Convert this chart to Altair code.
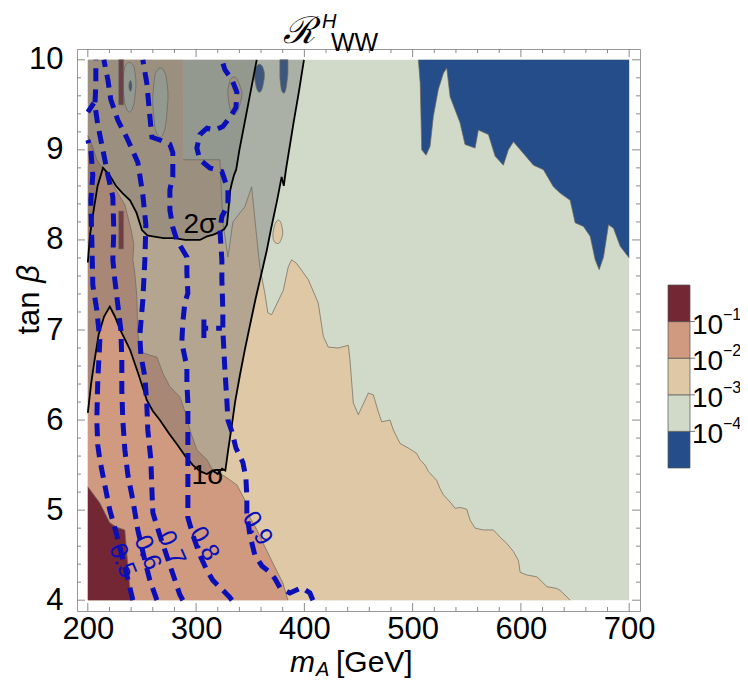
import altair as alt
import pandas as pd

# ---------------- axes / frame ----------------
X0, X1 = 190, 710
Y0, Y1 = 3.88, 10.12
W, H = 563, 562

C_BLUE = "#244d89"
C_GREEN = "#d1d9c9"
C_TAN = "#dfc8a6"
C_PINK = "#cf9a7f"
C_RED = "#732634"
C_DASH = "#0b0fb8"
FONT = "Liberation Sans"

x_major = [200, 300, 400, 500, 600, 700]
x_minor = [v for v in range(220, 700, 20) if v % 100 != 0]
y_major = [4, 5, 6, 7, 8, 9, 10]
y_minor = [round(4 + 0.2 * k, 1) for k in range(31) if k % 5 != 0]

# ---------------- colour regions ----------------
# tan region (1e-3 .. 1e-2): from tanb = 4 up to tan_top
tan_x = [200, 287.8, 288, 322, 324.7, 329.4, 334, 340.5, 345.1, 351.3, 355.9, 358.9, 363.6,
         366.3, 369.8, 380.5, 385.1, 388.2, 392.8, 403.6, 412.8, 417.5, 422.1, 431.3, 440.6,
         442.1, 445.2, 449.8, 459.1, 463.7, 468.3, 471.4, 479.1, 482.2, 488.4, 496.0, 503.7,
         506.8, 511.5, 514.5, 522.2, 525.3, 528.4, 534.6, 539.2, 543.8, 550.0, 553.0, 557.7,
         565.4, 574.6, 580.8, 587.0, 593.1, 597.7, 599.3, 605.4, 614.6, 620.8, 623.9, 633.2,
         636.2, 645.5]
tan_top = [10, 10, 8.89, 8.89, 8.2, 7.81, 8.2, 8.3, 8.37, 8.59, 8.04, 7.7, 7.4,
           7.19, 7.17, 7.44, 7.70, 7.78, 7.74, 7.56, 7.30, 6.93, 6.81, 6.80, 6.83,
           6.67, 6.19, 6.06, 6.30, 6.28, 6.09, 5.98, 6.0, 5.89, 5.74, 5.69, 5.63,
           5.56, 5.50, 5.43, 5.33, 5.24, 5.17, 5.09, 5.02, 5.03, 5.01, 4.89, 4.80,
           4.78, 4.78, 4.70, 4.63, 4.54, 4.44, 4.31, 4.28, 4.26, 4.19, 4.15, 4.13,
           4.11, 4.0]

# tan islands: right of the 1 sigma line, and inside the 2 sigma region
tisl_x = [371, 373, 376, 378, 380]
tisl_lo = [8.02, 7.97, 7.96, 7.99, 8.06]
tisl_hi = [8.08, 8.18, 8.22, 8.2, 8.1]
tisl2_x = [329.4, 331.5, 335, 339, 342.3]
tisl2_lo = [9.6, 9.45, 9.39, 9.45, 9.6]
tisl2_hi = [9.66, 9.78, 9.81, 9.76, 9.64]

# green islands inside the brown upper-left area
gisl1_x = [232.3, 234.5, 238.4, 242.3, 244.4]
gisl1_lo = [9.7, 9.5, 9.42, 9.5, 9.7]
gisl1_hi = [9.78, 9.93, 9.97, 9.93, 9.78]
gisl2_x = [260, 262.5, 267, 271.5, 274]
gisl2_lo = [9.5, 9.22, 9.14, 9.25, 9.55]
gisl2_hi = [9.6, 9.85, 9.91, 9.85, 9.65]

# pink region (1e-2 .. 1e-1): for each tanb, from mA = 200 to pink_right
pink_y = [4.0, 4.19, 4.41, 4.59, 4.78, 4.92, 5.11, 5.28, 5.38, 5.44, 5.56, 5.67, 5.89, 6.03,
          6.26, 6.37, 6.52, 6.70, 6.72, 6.76, 7.0, 7.37, 7.63, 7.78, 7.95, 8.11, 8.39, 8.67,
          8.89, 9.06, 9.16]
pink_right = [384.8, 380.2, 371.0, 363.6, 356.2, 349.7, 345.1, 337.7, 326, 315.5, 310, 300.7,
              294.2, 291.5, 285, 275.8, 269.3, 263.8, 257.3, 248, 246, 245.3, 243.4, 241.6,
              242.5, 240, 234.2, 220.3, 208.3, 203.7, 200]

# dark red region (> 1e-1)
red_y = [4.0, 4.14, 4.52, 4.78, 4.81, 4.86, 5.08, 5.26]
red_right = [241.6, 238.8, 236.0, 234.2, 226.8, 220.3, 211.1, 200]
bar_x1 = [228.6, 228.6]
bar_x2 = [233.0, 233.0]
bar_y1 = [7.9, 9.5]
bar_y2 = [8.32, 10.0]

# blue region (< 1e-4): from blue_low up to tanb = 10
blue_x = [505.3, 507.0, 507.8, 508.4, 512.4, 516.1, 519.1, 523.7, 528.4, 531.5, 534.6, 543.8,
          548.4, 557.7, 560.7, 570.0, 576.2, 583.8, 588.4, 593.1, 611.6, 620.8, 630.0, 636.2,
          645.5, 650.1, 657.8, 664.0, 668.6, 672.3, 676.3, 680.9, 685.5, 691.7, 700]
blue_low = [10, 9.74, 9.33, 9.0, 8.94, 9.04, 9.37, 9.67, 9.85, 9.91, 9.59, 9.30,
            9.06, 9.02, 9.22, 9.17, 8.93, 8.83, 9.0, 9.09, 8.83, 8.78, 8.59, 8.52,
            8.44, 8.19, 8.15, 8.04, 7.78, 7.67, 7.81, 8.17, 8.13, 7.93, 7.80]
# small blue blobs in the upper left
bb1_x = [354, 356, 358.5, 361, 363]
bb1_lo = [9.8, 9.68, 9.64, 9.68, 9.8]
bb1_hi = [9.86, 9.93, 9.95, 9.93, 9.86]
bb2_x = [377.4, 379, 381, 383, 384.8]
bb2_lo = [9.8, 9.66, 9.63, 9.68, 9.85]
bb2_hi = [10, 10, 10, 10, 10]
bb3_x = [238.0, 239.3, 240.6]
bb3_lo = [9.69, 9.65, 9.69]
bb3_hi = [9.73, 9.77, 9.73]

# ---------------- 1 sigma / 2 sigma ----------------
s1_x = [200, 203, 206, 210, 215, 220.3, 225, 230, 239, 247, 254.5, 260, 266.5, 275, 283, 290,
        297, 304, 310, 315, 320, 324, 327, 330, 333, 336, 340.5, 345, 349.7, 355, 360.8, 365.4,
        369, 375, 379, 381, 383, 390, 395, 399.6]
s1_y = [6.08, 6.4, 6.65, 6.95, 7.15, 7.26, 7.15, 7.0, 6.78, 6.5, 6.22, 6.1, 6.0, 5.85, 5.72,
        5.6, 5.5, 5.43, 5.40, 5.44, 5.40, 5.46, 5.44, 5.7, 5.94, 6.2, 6.5, 6.78, 7.05, 7.35,
        7.65, 7.89, 8.11, 8.45, 8.7, 8.6, 8.78, 9.3, 9.65, 10]
s2_x = [200, 202, 205, 209, 214, 220, 226, 232, 239, 245, 250, 255, 260, 270, 280, 290, 297,
        303.5, 310, 316, 322, 326, 328.5, 330, 331.5, 333, 335, 337, 340, 344, 348, 352, 356]
s2_y = [7.75, 8.05, 8.3, 8.6, 8.8, 8.72, 8.6, 8.52, 8.44, 8.3, 8.11, 8.05, 8.04, 8.02, 8.02,
        8.0, 8.0, 8.0, 8.04, 8.06, 8.09, 8.12, 8.17, 8.35, 8.55, 8.63, 8.72, 8.78, 9.0, 9.25,
        9.5, 9.75, 10]

# ---------------- dashed contours ----------------
c05_x = [241.6, 236.0, 226.8, 220.3, 214.8, 211.1, 209.2, 208.3, 209.2, 211.1, 208.3, 204.6,
         203.7, 202.8, 204.6, 202.8, 200]
c05_y = [4.0, 4.28, 4.72, 5.0, 5.33, 5.56, 5.72, 6.0, 6.44, 6.89, 7.22, 7.5, 8.0, 8.44, 8.72,
         9.0, 9.11]
c05b_x = [205.5, 200]
c05b_y = [9.52, 9.42]
c06_x = [263.8, 257.3, 252.7, 246.2, 241.6, 237.0, 234.2, 232.3, 231.4, 231.4, 230.5, 227.7,
         224.9, 223.1, 224.0, 223.1, 218.5, 213.9, 209.2, 206.5, 207.4, 207.4]
c06_y = [4.0, 4.22, 4.44, 4.78, 5.11, 5.39, 5.67, 6.0, 6.33, 6.67, 7.0, 7.28, 7.56, 7.78, 8.11,
         8.48, 8.72, 9.0, 9.28, 9.5, 9.72, 10]
c07_x = [287.8, 285.0, 275.8, 266.5, 260.1, 259.2, 258.2, 255.4, 254.5, 252.7, 249.0, 248.0,
         250.8, 252.7, 253.6, 250.8, 246.2, 237.0, 227.7, 221.2, 218.5, 214.8]
c07_y = [4.0, 4.06, 4.39, 4.72, 4.97, 5.22, 5.56, 5.89, 6.17, 6.48, 6.72, 6.94, 7.33, 7.78,
         8.17, 8.5, 8.86, 9.11, 9.33, 9.56, 9.78, 10]
c08_x = [333.1, 331.2, 324.7, 315.5, 310.0, 303.5, 297.1, 292.4, 292.4, 292.4, 292.4, 292.4,
         292.4, 292.4, 291.5, 291.5, 286.8, 287.7, 289.6, 292.4, 291.5, 291.5, 282.2, 278.5,
         275.8, 275.8, 278.5, 278.5, 275.8, 266.5, 259.2, 257.3, 254.5, 250.8]
c08_y = [4.0, 4.03, 4.11, 4.22, 4.33, 4.5, 4.72, 4.92, 5.14, 5.37, 5.56, 5.78, 6.0, 6.19, 6.41,
         6.59, 6.86, 7.08, 7.30, 7.41, 7.63, 7.81, 8.0, 8.14, 8.33, 8.56, 8.7, 8.97, 9.06, 9.11,
         9.14, 9.37, 9.74, 10]
c09_x = [407.9, 405.1, 397.7, 386.6, 377.4, 372.8, 368.2, 360.8, 354.3, 349.7, 346.9, 346.9,
         346.0, 343.2, 336.8, 333.1, 329.4, 328.4, 326.6, 324.7, 324.7, 323.8, 323.8, 322.0,
         323.8, 329.4, 329.4, 323.8, 312.7, 303.5, 300.7, 303.5, 310.0, 317.3, 324.7, 331.2,
         336.8, 337.7, 333.1, 326.6, 323.8]
c09_y = [4.0, 4.08, 4.14, 4.08, 4.14, 4.24, 4.31, 4.38, 4.5, 4.72, 4.97, 5.14, 5.36, 5.53,
         5.69, 5.87, 6.0, 6.22, 6.56, 7.0, 7.22, 7.56, 7.78, 8.11, 8.26, 8.39, 8.56, 8.76, 8.8,
         8.89, 9.02, 9.17, 9.24, 9.22, 9.26, 9.36, 9.47, 9.64, 9.78, 9.89, 10]
c09b_x = [307.2, 307.2, 307.2, 309.0, 323.8]
c09b_y = [6.91, 7.13, 7.02, 7.02, 7.02]

lab_text = ["0.5", "0.6", "0.7", "0.8", "0.9"]
lab_x = [232.3, 255.4, 277.6, 308.0, 357.0]
lab_y = [4.44, 4.53, 4.58, 4.63, 4.80]
lab_angle = [68, 68, 66, 60, 58]

sig_text = ["1σ", "2σ"]
sig_x = [311.0, 303.5]
sig_y = [5.38, 8.17]

cb_lo = [0, 1, 2, 3, 4]
cb_hi = [1, 2, 3, 4, 5]
cb_col = [C_BLUE, C_GREEN, C_TAN, C_PINK, C_RED]
cb_tick = [1, 2, 3, 4]
cb_base = ["10", "10", "10", "10"]
cb_exp = ["−4", "−3", "−2", "−1"]

# ---------------- build ----------------
xs = alt.Scale(domain=[X0, X1], nice=False, zero=False)
ys = alt.Scale(domain=[Y0, Y1], nice=False, zero=False)
AXX = alt.Axis(values=x_major, grid=False, ticks=False, domain=False, labelFontSize=31,
               labelFont=FONT, labelColor="black", labelPadding=3, title=None,
               labelFlush=False)
AXY = alt.Axis(values=y_major, grid=False, ticks=False, domain=False, labelFontSize=31,
               labelFont=FONT, labelColor="black", labelPadding=14, title=None,
               labelFlush=False)


def X(f):
    return alt.X(f, scale=xs, axis=AXX)


def Y(f):
    return alt.Y(f, scale=ys, axis=AXY)


LINE_C = "#6e6a5c"


def vband(xv, lo, hi, color, opacity=1.0):
    df = pd.DataFrame({"x": xv, "lo": lo, "hi": hi})
    return alt.Chart(df).mark_area(color=color, opacity=opacity, orient="vertical").encode(
        x=X("x:Q"), y=Y("lo:Q"), y2="hi:Q")


def island(xv, lo, hi, color):
    df = pd.DataFrame({"x": xv, "lo": lo, "hi": hi})
    return alt.Chart(df).mark_area(color=color, orient="vertical", interpolate="monotone",
                                   stroke=LINE_C, strokeWidth=0.7).encode(
        x=X("x:Q"), y=Y("lo:Q"), y2="hi:Q")


def hband(yv, right, color):
    df = pd.DataFrame({"y": yv, "l": [200] * len(yv), "r": right})
    return alt.Chart(df).mark_area(color=color, orient="horizontal").encode(
        y=Y("y:Q"), x=X("l:Q"), x2="r:Q")


def path(xv, yv, color, width, dash=None, opacity=1.0):
    df = pd.DataFrame({"x": xv, "y": yv, "i": list(range(len(xv)))})
    kw = dict(color=color, strokeWidth=width, opacity=opacity)
    if dash:
        kw["strokeDash"] = dash
    return alt.Chart(df).mark_line(**kw).encode(x=X("x:Q"), y=Y("y:Q"), order="i:Q")


layers = [
    vband([200, 700], [4, 4], [10, 10], C_GREEN),
    vband(tan_x, [4] * len(tan_x), tan_top, C_TAN),
    island(tisl_x, tisl_lo, tisl_hi, C_TAN),
    island(tisl2_x, tisl2_lo, tisl2_hi, C_TAN),
    island(gisl1_x, gisl1_lo, gisl1_hi, C_GREEN),
    island(gisl2_x, gisl2_lo, gisl2_hi, C_GREEN),
    hband(pink_y, pink_right, C_PINK),
    hband(red_y, red_right, C_RED),
    vband(blue_x, blue_low, [10] * len(blue_x), C_BLUE),
    island(bb1_x, bb1_lo, bb1_hi, C_BLUE),
    island(bb2_x, bb2_lo, bb2_hi, C_BLUE),
    island(bb3_x, bb3_lo, bb3_hi, C_BLUE),
]
bars = pd.DataFrame({"x1": bar_x1, "x2": bar_x2, "y1": bar_y1, "y2": bar_y2})
layers.append(alt.Chart(bars).mark_rect(color=C_RED, stroke=LINE_C, strokeWidth=0.6).encode(
    x=X("x1:Q"), x2="x2:Q", y=Y("y1:Q"), y2="y2:Q"))
# thin region boundaries
layers += [
    path(tan_x[2:], tan_top[2:], LINE_C, 0.9, opacity=0.8),
    path(pink_right, pink_y, LINE_C, 0.9, opacity=0.8),
    path(red_right, red_y, LINE_C, 0.9, opacity=0.8),
    path(blue_x, blue_low, LINE_C, 0.9, opacity=0.8),
]
# sigma shading
layers += [
    vband(s1_x, s1_y, [10] * len(s1_x), "#666666", 0.36),
    vband(s2_x, s2_y, [10] * len(s2_x), "#555555", 0.25),
    path(s1_x, s1_y, "black", 1.8),
    path(s2_x, s2_y, "black", 1.8),
]
# dashed contours
for cx, cy in [(c05_x, c05_y), (c05b_x, c05b_y), (c06_x, c06_y), (c07_x, c07_y),
               (c08_x, c08_y), (c09_x, c09_y), (c09b_x, c09b_y)]:
    layers.append(path(cx, cy, C_DASH, 5, dash=[13, 8]))

labs = pd.DataFrame({"t": lab_text, "x": lab_x, "y": lab_y, "a": lab_angle})
layers.append(alt.Chart(labs).mark_text(font=FONT, fontSize=25, color=C_DASH).encode(
    x=X("x:Q"), y=Y("y:Q"), text="t:N", angle=alt.Angle("a:Q", scale=None)))
sig = pd.DataFrame({"t": sig_text, "x": sig_x, "y": sig_y})
layers.append(alt.Chart(sig).mark_text(font=FONT, fontSize=28, color="black").encode(
    x=X("x:Q"), y=Y("y:Q"), text="t:N"))

# inward frame ticks
TICK_C = "#8a8a8a"


def xticks(vals, length, top):
    df = pd.DataFrame({"v": vals})
    y1, y2 = (0, length) if top else (H, H - length)
    return alt.Chart(df).mark_rule(color=TICK_C, strokeWidth=1).encode(
        x=X("v:Q"), y=alt.value(y1), y2=alt.value(y2))


def yticks(vals, length, right):
    df = pd.DataFrame({"v": vals})
    x1, x2 = (W, W - length) if right else (0, length)
    return alt.Chart(df).mark_rule(color=TICK_C, strokeWidth=1).encode(
        y=Y("v:Q"), x=alt.value(x1), x2=alt.value(x2))


for top in (False, True):
    layers += [xticks(x_major, 8, top), xticks(x_minor, 4, top)]
for right in (False, True):
    layers += [yticks(y_major, 8, right), yticks(y_minor, 4, right)]

# titles as text
title_parts = pd.DataFrame({
    "t": ["ℛ", "H", "WW", "m", "A", "[GeV]"],
    "px": [206, 245, 254, 213, 239, 259],
    "py": [-17, -27, -6, 614, 621, 614],
    "s": [37, 20, 25, 30, 20, 30],
    "st": ["italic", "italic", "normal", "italic", "italic", "normal"],
})
for _, r in title_parts.iterrows():
    layers.append(alt.Chart(pd.DataFrame({"t": [r.t]})).mark_text(
        font=FONT, fontSize=int(r.s), fontStyle=r.st, color="black", align="left",
        baseline="middle").encode(x=alt.value(int(r.px)), y=alt.value(int(r.py)), text="t:N"))
for t, py, st in [("tan", 264, "normal"), ("β", 225, "italic")]:
    layers.append(alt.Chart(pd.DataFrame({"t": [t]})).mark_text(
        font=FONT, fontSize=31, fontStyle=st, color="black",
        align="center", baseline="middle").encode(
        x=alt.value(-47), y=alt.value(py), text="t:N", angle=alt.value(270)))

main = alt.layer(*layers)

cb_df = pd.DataFrame({"lo": cb_lo, "hi": cb_hi, "c": cb_col})
cb_scale = alt.Scale(domain=[0, 5], range=[419, 236], nice=False, zero=False)
cb_rect = alt.Chart(cb_df).mark_rect(stroke="#555555", strokeWidth=0.7).encode(
    y=alt.Y("lo:Q", scale=cb_scale, axis=None), y2="hi:Q",
    x=alt.value(591), x2=alt.value(613), color=alt.Color("c:N", scale=None))
cbt_df = pd.DataFrame({"b": cb_tick, "t": cb_base, "e": cb_exp})
cb_ticks = alt.Chart(cbt_df).mark_rule(color="#555555", strokeWidth=0.8).encode(
    y=alt.Y("b:Q", scale=cb_scale, axis=None), x=alt.value(613), x2=alt.value(618))
cb_text = alt.Chart(cbt_df).mark_text(font=FONT, fontSize=28, color="black", align="left",
                                      baseline="middle", dy=4).encode(
    y=alt.Y("b:Q", scale=cb_scale, axis=None), x=alt.value(615), text="t:N")
cb_sup = alt.Chart(cbt_df).mark_text(font=FONT, fontSize=16, color="black", align="left",
                                     baseline="middle", dy=-7).encode(
    y=alt.Y("b:Q", scale=cb_scale, axis=None), x=alt.value(646), text="e:N")
cbar = alt.layer(cb_rect, cb_ticks, cb_text, cb_sup)

chart = alt.layer(main, cbar).resolve_scale(y="independent").properties(
    width=W, height=H,
    autosize=alt.AutoSizeParams(type="none"),
    padding={"left": 69, "top": 41, "right": 100, "bottom": 68},
).configure_view(stroke="#999999", strokeWidth=1)

chart.save("out.html", embed_options={"renderer": "svg", "actions": False})
